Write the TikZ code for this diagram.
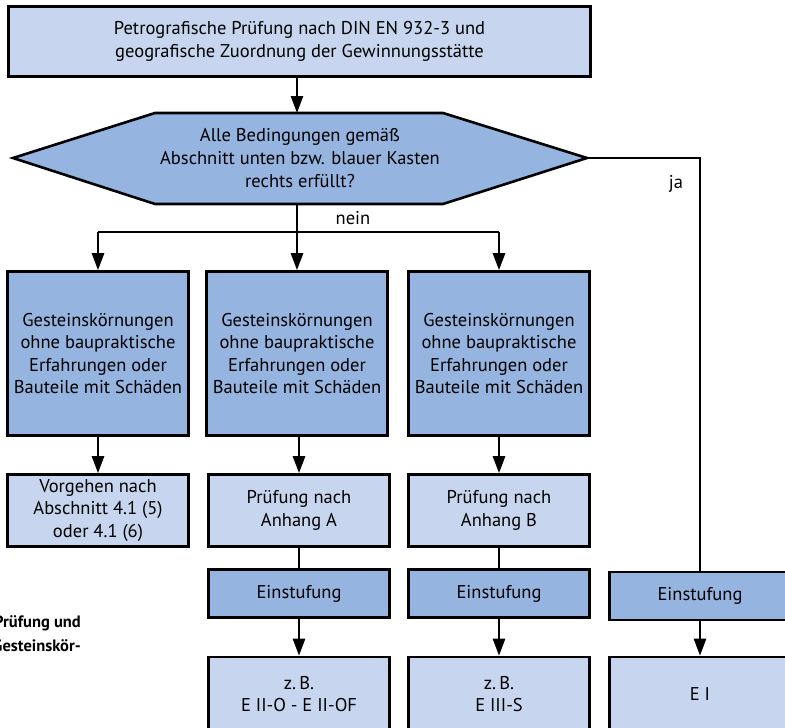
\documentclass[tikz,border=0pt]{standalone}
\usepackage{fontspec}
\setmainfont{PT Sans}
\usepackage{tikz}
\usetikzlibrary{arrows.meta}
\pgfdeclarelayer{edgelayer}
\pgfdeclarelayer{nodelayer}
\pgfsetlayers{edgelayer,nodelayer,main}
\tikzstyle{none} = []
\tikzstyle{Light Box}=[draw=black, fill={rgb,255: red,199; green,214; blue,238}, line width=2.6pt, shape=rectangle, minimum width=181pt, align=center, inner sep=0pt, font=\fontsize{18.5}{22.3}\selectfont]
\tikzstyle{Dark Box}=[draw=black, fill={rgb,255: red,149; green,181; blue,224}, line width=2.6pt, shape=rectangle, minimum width=181pt, align=center, inner sep=0pt, font=\fontsize{18.5}{22.3}\selectfont]
\tikzstyle{Label}=[align=center, inner sep=0pt, font=\fontsize{18.5}{23}\selectfont]
\tikzstyle{Arrow}=[-{Triangle[length=17pt, width=12pt]}, draw=black, line width=2.6pt]
\tikzstyle{Line}=[-, draw=black, line width=2.6pt]
\tikzstyle{none} = []

\begin{document}
\begin{tikzpicture}[x=1pt, y=-1pt]
	\useasboundingbox (0, 0) rectangle (785, 728);
	\begin{pgfonlayer}{nodelayer}
		\node [style=Light Box, minimum width=582pt, minimum height=70pt] (0) at (299.5, 41.5) {Petrografische Prüfung nach DIN EN 932-3 und\\geografische Zuordnung der Gewinnungsstätte};
		\node [style=Label] (1) at (300, 158) {Alle Bedingungen gemäß\\Abschnitt unten bzw. blauer Kasten\\rechts erfüllt?};
		\node [style=none] (2) at (13, 158) {};
		\node [style=none] (3) at (155, 113) {};
		\node [style=none] (4) at (443, 113) {};
		\node [style=none] (5) at (587, 158) {};
		\node [style=none] (6) at (443, 204) {};
		\node [style=none] (7) at (155, 204) {};
		\node [style=none] (8) at (297, 113) {};
		\node [style=none] (9) at (297, 78) {};
		\node [style=none] (10) at (297, 204) {};
		\node [style=none] (11) at (98, 232) {};
		\node [style=none] (12) at (499, 232) {};
		\node [style=Dark Box, minimum height=164pt] (14) at (98, 353.5) {Gesteinskörnungen\\ohne baupraktische\\Erfahrungen oder\\Bauteile mit Schäden};
		\node [style=Dark Box, minimum height=164pt] (15) at (297, 353.5) {Gesteinskörnungen\\ohne baupraktische\\Erfahrungen oder\\Bauteile mit Schäden};
		\node [style=Dark Box, minimum height=164pt] (16) at (499, 353.5) {Gesteinskörnungen\\ohne baupraktische\\Erfahrungen oder\\Bauteile mit Schäden};
		\node [style=Light Box, minimum height=72pt] (17) at (98, 510.5) {Vorgehen nach\\Abschnitt 4.1 (5)\\oder 4.1 (6)};
		\node [style=Light Box, minimum height=72pt] (18) at (299, 510.5) {Prüfung nach\\Anhang A};
		\node [style=Light Box, minimum height=72pt] (19) at (499, 510.5) {Prüfung nach\\Anhang B};
		\node [style=Dark Box, minimum height=48pt] (20) at (299, 593.5) {Einstufung};
		\node [style=Dark Box, minimum height=48pt] (21) at (499, 593.5) {Einstufung};
		\node [style=Dark Box, minimum height=48pt] (22) at (700, 596) {Einstufung};
		\node [style=Light Box, minimum height=74pt] (23) at (299, 694) {z.\,B.\\E II-O - E II-OF};
		\node [style=Light Box, minimum height=74pt] (24) at (499, 694) {z.\,B.\\E III-S};
		\node [style=Light Box, minimum height=74pt] (25) at (700, 694) {E I};
		\node [style=none] (27) at (700, 158) {};
		\node [style=Label] (28) at (353, 218) {nein};
		\node [style=Label] (29) at (676, 184) {ja};
		\node [anchor=east, align=right, inner sep=0pt, font=\fontsize{16.5}{24}\selectfont\bfseries] (30) at (81, 634) {Prüfung und\\Gesteinskör-};
	\end{pgfonlayer}
	\begin{pgfonlayer}{edgelayer}
		\filldraw [fill={rgb,255: red,149; green,181; blue,224}, line width=2.6pt, line join=miter] (2.center) -- (3.center) -- (4.center) -- (5.center) -- (6.center) -- (7.center) -- cycle;
		\draw [style=Arrow] (9.center) to (8.center);
		\draw [style=Arrow] (10.center) to (15);
		\draw [style=Line] (11.center) to (12.center);
		\draw [style=Arrow] (11.center) to (14);
		\draw [style=Arrow] (12.center) to (16);
		\draw [style=Line] (5.center) to (27.center) to (22);
		\draw [style=Arrow] (14) to (17);
		\draw [style=Arrow] (15.south -| 18) to (18);
		\draw [style=Arrow] (16) to (19);
		\draw [style=Line] (18) to (20);
		\draw [style=Line] (19) to (21);
		\draw [style=Arrow] (20) to (23);
		\draw [style=Arrow] (21) to (24);
		\draw [style=Arrow] (22) to (25);
	\end{pgfonlayer}
\end{tikzpicture}
\end{document}
